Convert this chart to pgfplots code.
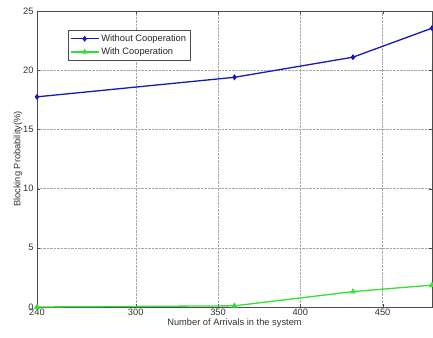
\documentclass[border=0pt]{standalone}
\usepackage{pgfplots}
\pgfplotsset{compat=1.18}
\usepackage{fontspec}
\setmainfont{Liberation Sans}
\definecolor{mblue}{RGB}{25,25,185}
\definecolor{mgreen}{RGB}{50,225,50}
\begin{document}
\begin{tikzpicture}
\begin{axis}[
  name=ax,
  scale only axis,
  width=395pt, height=296pt,
  xmin=240, xmax=480, ymin=0, ymax=25,
  xtick={240,300,350,400,450},
  ytick={0,5,10,15,20,25},
  tick align=inside,
  tick pos=both,
  major tick length=3pt,
  grid=major,
  major grid style={densely dotted, gray!70, line width=0.5pt},
  axis line style={gray!60!black, line width=0.6pt},
  tick style={gray!60!black},
  font=\fontsize{9.3}{10}\selectfont,
  /pgf/number format/assume math mode=true,
  ticklabel style={font=\fontsize{9.3}{10}\selectfont, text=black!80},
  xticklabel style={yshift=1.5pt},
  xlabel={Number of Arrivals in the system},
  ylabel={Blocking Probability(\%)},
  xlabel style={yshift=4pt, text=black!80},
  ylabel style={yshift=-6pt, text=black!80},
  legend style={at={(0.078,0.936)}, anchor=north west, draw=black!70,
    font=\fontsize{9.3}{10}\selectfont, inner xsep=2pt, inner ysep=2.5pt, row sep=1pt,
    cells={anchor=west}, text=black!85},
  legend image code/.code={\draw[mark repeat=2,mark phase=2,#1] plot coordinates {(0pt,0pt)(14pt,0pt)(28pt,0pt)};},
]
\addplot[mblue, line width=1.3pt, mark=diamond*, mark size=2pt] coordinates {
  (240,17.75) (360,19.4) (432,21.1) (480,23.55)};
\addlegendentry{Without Cooperation}
\addplot[mgreen, line width=1.3pt, mark=triangle*, mark size=2.2pt] coordinates {
  (240,0.0) (360,0.1) (432,1.3) (480,1.85)};
\addlegendentry{With Cooperation}
\end{axis}
\pgfresetboundingbox
\path (ax.south west) ++(-37pt,-30pt) rectangle ++(433pt,337pt);
\end{tikzpicture}
\end{document}
